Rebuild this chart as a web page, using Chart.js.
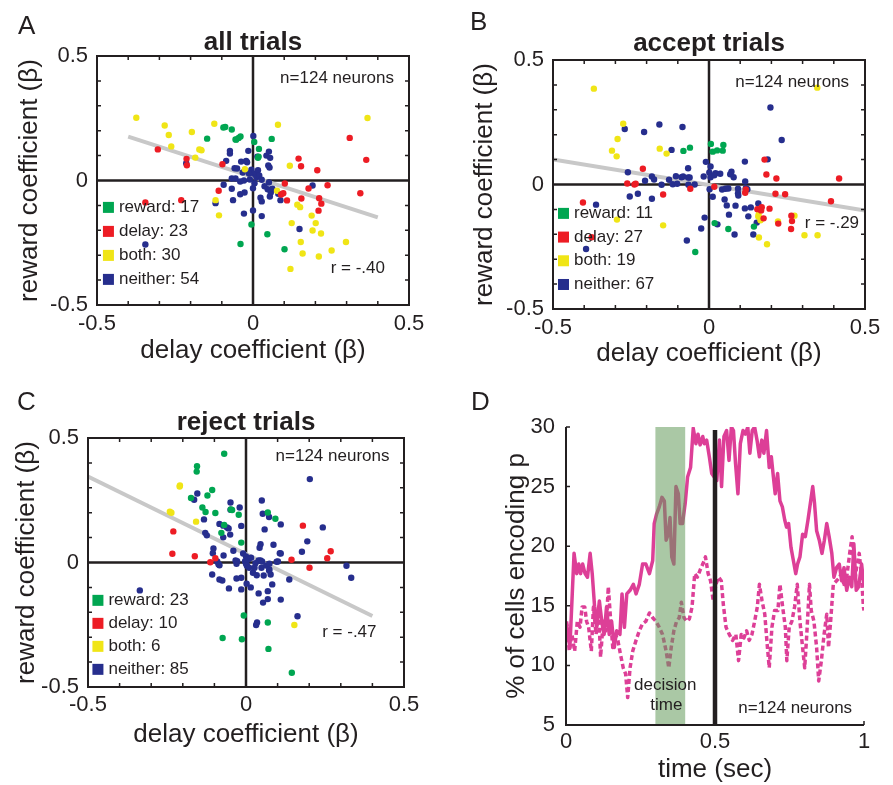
<!DOCTYPE html>
<html>
<head>
<meta charset="utf-8">
<title>Coefficient scatter and encoding time course</title>
<script src="https://cdn.jsdelivr.net/npm/chart.js@4.4.1/dist/chart.umd.min.js"></script>
<style>
  body { margin: 0; background: #fff; }
  #fig { position: relative; width: 893px; height: 785px; overflow: hidden;
         font-family: "Liberation Sans", Arial, Helvetica, sans-serif; color: #231f20; }
  #fig canvas { position: absolute; }
  .tag { position: absolute; font-size: 26px; line-height: 1; }
</style>
</head>
<body>
<div id="fig">
  <canvas id="allChart" width="440" height="390" style="left:0;top:0"></canvas>
  <canvas id="acceptChart" width="443" height="390" style="left:450px;top:0"></canvas>
  <canvas id="rejectChart" width="440" height="395" style="left:0;top:390px"></canvas>
  <canvas id="timeChart" width="443" height="395" style="left:450px;top:390px"></canvas>
  <div class="tag" style="left:18px;top:12px">A</div>
  <div class="tag" style="left:470px;top:8px">B</div>
  <div class="tag" style="left:17px;top:388px">C</div>
  <div class="tag" style="left:471px;top:388px">D</div>
</div>
<script>
// ---- data ----
const groupNames = ['reward', 'delay', 'both', 'neither'];
const countsAll = [17, 23, 30, 54];
const countsAccept = [11, 27, 19, 67];
const countsReject = [23, 10, 6, 85];
const corrR = ['-.40', '-.29', '-.47'];
const nNeurons = 124;

const coefTicks = [-0.5, 0, 0.5];
const coefMinor = [-0.4, -0.3, -0.2, -0.1, 0.1, 0.2, 0.3, 0.4];
const timeTicks = [0, 0.5, 1];
const pctTicks = [5, 10, 15, 20, 25, 30];

// all trials (delay beta, reward beta)
const allReward = [[-0.095,0.213],[-0.089,0.215],[-0.068,0.205],[-0.147,0.168],[-0.054,0.164],[-0.046,0.171],[-0.040,0.177],[0.004,0.155],[0.019,0.127],[0.060,0.167],[0.016,0.091],[-0.005,-0.177],[0.046,-0.216],[-0.040,-0.255],[0.101,-0.276],[-0.056,0.165],[0.018,0.096]];
const allDelay = [[-0.305,0.125],[-0.213,0.087],[-0.212,0.061],[-0.345,-0.088],[-0.230,-0.079],[-0.110,-0.041],[-0.098,0.065],[0.146,0.088],[0.154,0.057],[0.206,0.041],[0.102,-0.012],[0.178,-0.032],[0.239,-0.019],[0.155,-0.072],[0.109,-0.080],[0.212,-0.071],[0.219,-0.093],[0.210,-0.121],[0.310,0.171],[0.363,0.083],[0.344,-0.051],[0.090,-0.056],[0.097,-0.051]];
const allBoth = [[-0.374,0.252],[-0.283,0.221],[-0.270,0.183],[-0.262,0.137],[-0.196,0.195],[-0.167,0.123],[-0.172,0.125],[-0.185,0.092],[-0.124,0.228],[0.080,0.224],[0.367,0.251],[-0.026,0.045],[-0.120,-0.079],[-0.109,-0.140],[0.118,0.059],[0.142,-0.097],[0.151,-0.107],[0.188,-0.141],[0.201,-0.171],[0.124,-0.171],[0.191,-0.201],[0.218,-0.213],[0.153,-0.247],[0.159,-0.293],[0.211,-0.305],[0.252,-0.281],[0.298,-0.247],[0.120,-0.355],[0.077,-0.041],[-0.165,0.121]];
const allNeither = [[-0.345,-0.257],[-0.214,0.069],[-0.120,-0.091],[-0.094,-0.017],[-0.086,0.079],[-0.074,0.119],[-0.074,0.108],[-0.068,-0.033],[-0.064,-0.079],[-0.068,0.008],[-0.056,0.008],[-0.059,0.049],[-0.051,0.048],[-0.041,-0.055],[-0.038,0.076],[-0.029,-0.133],[-0.027,-0.048],[-0.022,0.079],[-0.019,0.073],[-0.033,0.032],[-0.029,0.000],[-0.015,0.119],[-0.005,0.043],[0.001,0.179],[0.000,-0.120],[0.000,-0.031],[0.003,0.027],[0.016,0.041],[0.011,0.013],[0.020,0.020],[0.028,0.003],[0.014,0.096],[0.024,-0.069],[0.028,-0.084],[0.028,-0.143],[0.043,0.100],[0.051,0.116],[0.055,0.091],[0.049,0.060],[0.053,0.052],[0.051,-0.008],[0.047,-0.035],[0.054,-0.064],[0.057,-0.048],[0.062,-0.033],[0.081,-0.053],[0.088,-0.079],[0.191,-0.020],[0.149,-0.195],[-0.013,0.028],[0.005,-0.011],[0.037,-0.023],[-0.041,-0.004],[-0.010,0.004]];
const fitAll = [[-0.40,0.176],[0.40,-0.148]];

// accept trials
const acceptReward = [[-0.082,0.135],[-0.061,0.148],[0.006,0.163],[0.012,0.132],[0.026,0.137],[0.044,0.136],[0.046,0.159],[0.018,-0.155],[0.062,-0.179],[0.144,-0.169],[-0.044,-0.271]];
const acceptDelay = [[-0.404,-0.072],[-0.376,-0.212],[-0.262,0.004],[-0.239,0.000],[-0.235,0.003],[-0.212,0.063],[-0.147,-0.040],[-0.060,-0.017],[0.017,-0.009],[0.116,-0.033],[0.178,0.100],[0.184,0.040],[0.216,0.024],[0.417,0.024],[0.213,-0.037],[0.244,-0.039],[0.391,-0.067],[0.155,-0.099],[0.169,-0.091],[0.194,-0.097],[0.175,-0.136],[0.222,-0.157],[0.264,-0.125],[0.266,-0.147],[0.263,-0.179],[0.167,-0.104],[0.118,-0.020]];
const acceptBoth = [[-0.369,0.385],[0.347,0.389],[-0.275,0.244],[-0.293,0.183],[-0.311,0.136],[-0.296,0.113],[-0.158,0.144],[-0.136,0.124],[-0.295,-0.141],[-0.147,-0.164],[0.159,-0.121],[0.165,-0.144],[0.221,-0.148],[0.274,-0.125],[0.160,-0.213],[0.186,-0.240],[0.306,-0.204],[0.348,-0.204],[0.158,-0.129]];
const acceptNeither = [[-0.270,0.223],[-0.208,0.211],[-0.159,0.241],[-0.085,0.231],[-0.120,0.139],[-0.260,0.049],[-0.205,0.015],[-0.183,0.032],[-0.176,0.020],[-0.152,-0.001],[-0.254,-0.048],[-0.228,-0.037],[-0.183,-0.057],[-0.362,-0.081],[-0.394,-0.259],[-0.128,0.019],[-0.116,0.001],[-0.106,0.033],[-0.102,0.003],[-0.088,0.029],[-0.083,0.032],[-0.067,0.065],[-0.067,0.028],[-0.062,0.028],[-0.066,-0.001],[-0.046,0.000],[-0.071,-0.225],[-0.025,-0.177],[-0.014,-0.133],[-0.010,0.091],[0.005,0.072],[0.001,0.048],[0.005,0.029],[0.002,-0.019],[0.012,-0.049],[0.021,0.045],[0.036,0.043],[0.017,0.037],[0.027,-0.160],[0.042,-0.020],[0.050,-0.060],[0.057,-0.084],[0.062,-0.016],[0.064,-0.121],[0.068,0.041],[0.072,0.051],[0.079,0.029],[0.085,-0.085],[0.082,-0.201],[0.093,-0.017],[0.093,-0.035],[0.094,-0.044],[0.115,0.092],[0.116,0.012],[0.118,-0.015],[0.123,-0.019],[0.115,-0.096],[0.134,-0.092],[0.126,-0.128],[0.158,-0.076],[0.153,-0.153],[0.142,-0.201],[0.188,0.101],[0.197,0.309],[0.233,0.179],[-0.017,0.032],[0.053,-0.017]];
const fitAccept = [[-0.5,0.101],[0.5,-0.105]];

// reject trials
const rejectReward = [[-0.069,0.437],[-0.155,0.387],[-0.156,0.365],[-0.107,0.291],[-0.122,0.269],[-0.174,0.259],[-0.138,0.221],[-0.128,0.203],[-0.097,0.199],[-0.048,0.213],[-0.044,0.211],[-0.023,0.192],[-0.078,0.119],[-0.015,0.080],[0.069,0.201],[0.093,0.176],[-0.007,-0.213],[0.069,-0.241],[-0.074,-0.303],[-0.013,-0.308],[0.071,-0.347],[0.145,-0.443],[-0.069,0.151]];
const rejectDelay = [[-0.230,0.125],[-0.233,0.035],[-0.162,0.025],[-0.113,0.001],[-0.097,0.017],[0.144,0.011],[0.201,-0.021],[0.180,0.148],[0.268,0.045],[0.257,0.017]];
const rejectBoth = [[-0.209,0.309],[-0.241,0.204],[-0.158,0.164],[0.153,-0.251],[-0.210,0.305],[-0.236,0.200]];
const rejectNeither = [[0.202,0.335],[0.243,0.141],[0.050,0.249],[0.053,0.196],[0.073,0.183],[0.059,0.133],[0.110,0.153],[0.087,0.071],[0.046,0.073],[0.107,0.037],[0.110,0.036],[0.194,0.085],[0.177,0.043],[0.318,-0.013],[0.333,-0.061],[0.137,-0.068],[0.110,-0.149],[0.083,-0.088],[0.069,-0.115],[0.069,-0.147],[0.054,-0.161],[0.040,-0.124],[0.163,-0.216],[0.035,-0.241],[0.032,-0.251],[-0.336,-0.112],[-0.154,0.277],[-0.164,0.252],[-0.133,0.173],[-0.129,0.119],[-0.124,0.109],[-0.072,0.148],[-0.060,0.141],[-0.055,0.137],[-0.072,0.101],[-0.049,0.241],[-0.049,0.212],[-0.020,0.221],[-0.015,0.147],[-0.050,0.112],[-0.040,0.047],[-0.103,0.056],[-0.105,0.037],[-0.071,0.028],[-0.091,0.004],[-0.087,-0.007],[-0.084,-0.011],[-0.107,-0.048],[-0.084,-0.068],[-0.075,-0.072],[-0.054,-0.104],[-0.030,-0.064],[-0.015,-0.061],[-0.033,0.008],[-0.030,-0.005],[-0.009,0.036],[0.000,0.024],[-0.003,0.005],[0.000,-0.005],[0.003,-0.013],[0.007,0.012],[0.010,-0.021],[0.002,-0.085],[0.015,-0.100],[-0.015,-0.108],[0.022,-0.041],[0.034,-0.051],[0.040,0.008],[0.046,0.008],[0.051,0.004],[0.049,-0.021],[0.056,-0.052],[0.064,-0.012],[0.074,-0.005],[0.074,-0.028],[0.078,-0.048],[0.097,0.003],[0.101,0.004],[0.073,-0.032],[0.030,-0.003],[0.043,0.059],[0.016,0.019],[-0.028,0.005],[0.027,-0.021],[-0.084,0.155]];
const fitReject = [[-0.5,0.345],[0.40,-0.215]];

// % of cells encoding p over time
const timeSolid = [0.002,0.013,0.027,0.036,0.043,0.049,0.056,0.064,0.072,0.081,0.088,0.096,0.103,0.112,0.121,0.128,0.136,0.145,0.153,0.162,0.170,0.181,0.188,0.196,0.204,0.215,0.226,0.235,0.246,0.257,0.268,0.280,0.291,0.296,0.304,0.313,0.322,0.330,0.336,0.343,0.349,0.355,0.362,0.369,0.377,0.383,0.391,0.400,0.408,0.418,0.427,0.436,0.443,0.450,0.459,0.464,0.472,0.481,0.489,0.506,0.515,0.522,0.530,0.539,0.547,0.555,0.562,0.569,0.577,0.585,0.594,0.602,0.610,0.617,0.625,0.633,0.641,0.649,0.657,0.664,0.673,0.682,0.689,0.696,0.702,0.710,0.718,0.726,0.734,0.740,0.747,0.755,0.763,0.771,0.777,0.785,0.794,0.803,0.812,0.820,0.828,0.834,0.841,0.850,0.859,0.867,0.875,0.883,0.892,0.899,0.908,0.917,0.925,0.933,0.942,0.951,0.959,0.966,0.974,0.982,0.992,1.000];
const pctSolid = [13.5,11.5,19.4,17.7,18.5,17.7,18.5,17.7,17.4,19.4,17.7,14.9,13.2,15.4,13.5,12.6,14.9,12.6,13.7,11.5,12.9,12.6,16.0,13.2,16.0,16.3,16.8,16.0,16.8,18.5,18.5,17.7,18.8,21.9,22.7,23.3,24.1,23.8,20.5,21.0,22.4,19.1,18.5,25.0,24.4,21.9,21.9,23.6,25.8,26.6,29.9,28.6,29.4,28.5,29.2,28.6,28.9,27.5,26.1,25.5,28.9,25.0,29.2,29.7,27.2,30.0,29.7,26.9,24.4,28.6,29.7,29.4,30.0,27.8,29.7,30.0,28.9,27.5,28.9,27.8,29.7,26.6,27.5,25.8,24.4,26.1,23.8,23.3,22.2,21.6,21.9,19.9,18.8,17.7,18.5,19.1,21.0,20.8,22.2,23.6,25.0,23.6,21.3,20.5,19.4,20.5,21.9,20.8,19.4,17.4,18.2,18.5,17.1,18.2,16.3,17.4,16.6,20.2,16.3,16.6,18.5,16.6];
const timeDashed = [0.002,0.011,0.020,0.029,0.038,0.047,0.054,0.063,0.069,0.076,0.085,0.092,0.101,0.109,0.116,0.125,0.134,0.142,0.150,0.157,0.166,0.174,0.183,0.192,0.200,0.207,0.215,0.224,0.235,0.246,0.257,0.268,0.280,0.291,0.302,0.313,0.324,0.336,0.345,0.353,0.362,0.371,0.380,0.387,0.396,0.405,0.414,0.423,0.432,0.441,0.450,0.459,0.468,0.477,0.485,0.494,0.503,0.512,0.521,0.528,0.537,0.548,0.559,0.570,0.579,0.588,0.597,0.606,0.615,0.624,0.633,0.642,0.649,0.658,0.667,0.676,0.682,0.691,0.700,0.711,0.718,0.727,0.736,0.741,0.749,0.758,0.767,0.776,0.785,0.794,0.801,0.808,0.817,0.823,0.832,0.841,0.848,0.857,0.866,0.875,0.881,0.888,0.897,0.908,0.919,0.926,0.933,0.942,0.953,0.960,0.969,0.975,0.984,0.991,0.998,1.000];
const pctDashed = [13.7,11.2,12.6,11.2,13.7,13.2,14.9,14.9,13.7,13.2,11.2,14.9,12.6,14.9,10.7,13.7,12.9,16.6,13.7,11.5,12.6,12.1,10.9,9.8,9.3,7.3,9.8,11.2,12.1,12.9,13.5,13.7,14.4,14.0,13.7,13.2,12.6,11.2,9.8,11.5,12.9,13.7,14.0,15.3,14.0,13.7,13.9,14.9,17.7,17.4,18.0,18.5,19.1,17.7,17.1,15.4,16.8,17.4,17.1,15.1,13.2,12.6,12.1,12.6,10.4,12.6,12.3,12.9,12.1,12.6,13.7,14.9,16.8,15.4,14.3,11.5,9.8,13.2,14.6,14.6,16.8,14.9,13.2,10.4,13.2,13.7,14.9,16.8,13.7,11.5,9.8,12.6,16.8,14.6,13.7,11.5,8.7,10.4,12.6,14.3,11.5,13.7,16.8,17.1,17.4,18.0,16.6,17.4,19.6,20.8,17.1,18.2,19.4,17.7,14.9,14.6];
const decisionWindow = [0.3, 0.4];
const choiceTime = 0.5;

// ---- styling ----
const ink = '#231f20';
const dotColors = ['#00a651', '#ed1c24', '#f0e516', '#262e8d'];
const pink = '#dd3f97';

Chart.defaults.font.family = '"Liberation Sans", Arial, Helvetica, sans-serif';
Chart.defaults.color = ink;

// frame, zero lines, inward ticks, in-plot keys and notes
const decor = {
  id: 'decor',
  beforeDatasetsDraw(chart, args, o) {
    if (!o.zero) return;
    const { ctx, chartArea: a, scales: { x, y } } = chart;
    const x0 = x.getPixelForValue(0), y0 = y.getPixelForValue(0);
    ctx.save();
    ctx.strokeStyle = ink;
    ctx.lineWidth = 2.5;
    ctx.beginPath();
    ctx.moveTo(x0, a.top); ctx.lineTo(x0, a.bottom);
    ctx.moveTo(a.left, y0); ctx.lineTo(a.right, y0);
    ctx.stroke();
    ctx.restore();
  },
  afterDatasetsDraw(chart, args, o) {
    const { ctx, chartArea: a, scales: { x, y } } = chart;
    ctx.save();
    if (o.window) {
      const l = x.getPixelForValue(o.window[0]), r = x.getPixelForValue(o.window[1]);
      ctx.fillStyle = 'rgba(100,155,91,0.55)';
      ctx.fillRect(l, a.top, r - l, a.height);
    }
    if (o.marker != null) {
      const m = x.getPixelForValue(o.marker);
      ctx.strokeStyle = ink;
      ctx.lineWidth = 4.5;
      ctx.beginPath();
      ctx.moveTo(m, a.top + 3); ctx.lineTo(m, a.bottom);
      ctx.stroke();
    }
    ctx.strokeStyle = ink;
    ctx.lineWidth = 2;
    ctx.beginPath();
    if (o.box) {
      ctx.rect(a.left, a.top, a.width, a.height);
    } else {
      ctx.moveTo(a.left, a.top); ctx.lineTo(a.left, a.bottom); ctx.lineTo(a.right, a.bottom);
    }
    ctx.stroke();

    ctx.lineWidth = 1.5;
    ctx.beginPath();
    (o.ticksX || []).forEach(v => {
      const px = x.getPixelForValue(v);
      ctx.moveTo(px, a.bottom); ctx.lineTo(px, a.bottom - 4);
      if (o.box) { ctx.moveTo(px, a.top); ctx.lineTo(px, a.top + 4); }
    });
    (o.ticksY || []).forEach(v => {
      const py = y.getPixelForValue(v);
      ctx.moveTo(a.left, py); ctx.lineTo(a.left + 4, py);
      if (o.box) { ctx.moveTo(a.right, py); ctx.lineTo(a.right - 4, py); }
    });
    ctx.stroke();

    ctx.font = '17px "Liberation Sans", Arial, sans-serif';
    ctx.textBaseline = 'middle';
    if (o.key) {
      const kx = x.getPixelForValue(o.key.x), ky = y.getPixelForValue(o.key.y);
      o.key.items.forEach((it, i) => {
        const py = ky + i * o.key.step;
        ctx.fillStyle = it.color;
        ctx.fillRect(kx, py - 5.5, 11, 11);
        ctx.fillStyle = ink;
        ctx.textAlign = 'left';
        ctx.fillText(it.text, kx + 16, py);
      });
    }
    (o.notes || []).forEach(n => {
      ctx.fillStyle = ink;
      ctx.textAlign = n.align || 'right';
      ctx.fillText(n.text, x.getPixelForValue(n.x), y.getPixelForValue(n.y));
    });
    ctx.restore();
  }
};
Chart.register(decor);

function coefAxis(isX, L) {
  return {
    type: 'linear',
    min: -0.5,
    max: 0.5,
    afterBuildTicks: s => { s.ticks = coefTicks.map(v => ({ value: v })); },
    afterFit: s => { if (isX) s.height = L.xHeight; else s.width = L.yWidth; },
    ticks: { autoSkip: false, maxRotation: 0, padding: isX ? L.tickPadX : 9,
             font: { size: 22 }, callback: v => String(v) },
    grid: { display: false, drawTicks: false },
    border: { display: false },
    title: {
      display: true,
      text: isX ? 'delay coefficient (β)' : 'reward coefficient (β)',
      font: { size: 26 },
      padding: isX ? { top: 0, bottom: L.xTitlePad } : { top: L.yTitlePad, bottom: 0 }
    }
  };
}

function scatterPanel(id, title, groups, counts, fit, r, L) {
  const datasets = groups.map((pts, i) => ({
    type: 'scatter',
    label: groupNames[i],
    data: pts,
    backgroundColor: dotColors[i],
    borderWidth: 0,
    pointRadius: 3.2,
    order: 1
  }));
  datasets.push({
    type: 'line',
    label: 'fit',
    data: fit,
    borderColor: '#c8c8c8',
    borderWidth: 4,
    pointRadius: 0,
    order: 5
  });
  return new Chart(document.getElementById(id), {
    type: 'scatter',
    data: { datasets },
    options: {
      responsive: false,
      animation: false,
      events: [],
      layout: { padding: { left: 0, right: L.padRight, top: 0, bottom: 0 } },
      scales: { x: coefAxis(true, L), y: coefAxis(false, L) },
      plugins: {
        legend: { display: false },
        tooltip: { enabled: false },
        title: {
          display: true,
          fullSize: false,
          text: title,
          color: ink,
          font: { size: 26, weight: 'bold', lineHeight: 1 },
          padding: { top: L.titleTop, bottom: L.titleBottom }
        },
        decor: {
          zero: true,
          box: true,
          ticksX: coefMinor,
          ticksY: coefMinor,
          key: {
            x: L.keyX, y: L.keyY, step: L.keyStep,
            items: groupNames.map((g, i) => ({ color: dotColors[i], text: g + ': ' + counts[i] }))
          },
          notes: [
            { text: 'n=' + nNeurons + ' neurons', x: L.nX, y: L.nY },
            { text: 'r = ' + r, x: L.rX, y: L.rY }
          ]
        }
      }
    }
  });
}

scatterPanel('allChart', 'all trials', [allReward, allDelay, allBoth, allNeither], countsAll, fitAll, corrR[0], {
  padRight: 31, titleTop: 30, titleBottom: 0, yWidth: 97, yTitlePad: 14,
  xHeight: 85, xTitlePad: 24, tickPadX: 6,
  keyX: -0.481, keyY: -0.108, keyStep: 24, nX: 0.452, nY: 0.41, rX: 0.423, rY: -0.352
});

scatterPanel('acceptChart', 'accept trials', [acceptReward, acceptDelay, acceptBoth, acceptNeither], countsAccept, fitAccept, corrR[1], {
  padRight: 28, titleTop: 31, titleBottom: 3, yWidth: 103, yTitlePad: 19,
  xHeight: 81, xTitlePad: 21, tickPadX: 6,
  keyX: -0.484, keyY: -0.116, keyStep: 23.7, nX: 0.449, nY: 0.41, rX: 0.481, rY: -0.156
});

scatterPanel('rejectChart', 'reject trials', [rejectReward, rejectDelay, rejectBoth, rejectNeither], countsReject, fitReject, corrR[2], {
  padRight: 36, titleTop: 20, titleBottom: 2, yWidth: 88, yTitlePad: 11,
  xHeight: 98, xTitlePad: 35, tickPadX: 5,
  keyX: -0.486, keyY: -0.152, keyStep: 23, nX: 0.454, nY: 0.428, rX: 0.413, rY: -0.28
});

new Chart(document.getElementById('timeChart'), {
  type: 'line',
  data: {
    datasets: [
      {
        label: 'solid',
        data: timeSolid.map((t, i) => ({ x: t, y: pctSolid[i] })),
        borderColor: pink,
        borderWidth: 3.5,
        borderJoinStyle: 'round',
        pointRadius: 0,
        tension: 0
      },
      {
        label: 'dashed',
        data: timeDashed.map((t, i) => ({ x: t, y: pctDashed[i] })),
        borderColor: pink,
        borderWidth: 3.5,
        borderDash: [5, 3],
        borderJoinStyle: 'round',
        borderCapStyle: 'butt',
        pointRadius: 0,
        tension: 0
      }
    ]
  },
  options: {
    responsive: false,
    animation: false,
    events: [],
    layout: { padding: { left: 0, right: 29, top: 37, bottom: 0 } },
    scales: {
      x: {
        type: 'linear', min: 0, max: 1,
        afterBuildTicks: s => { s.ticks = timeTicks.map(v => ({ value: v })); },
        afterFit: s => { s.height = 60; },
        ticks: { autoSkip: false, maxRotation: 0, padding: 4, font: { size: 22 }, callback: v => String(v) },
        grid: { display: false, drawTicks: false },
        border: { display: false },
        title: { display: true, text: 'time (sec)', font: { size: 26 }, padding: { top: 0, bottom: 0 } }
      },
      y: {
        type: 'linear', min: 5, max: 30,
        afterBuildTicks: s => { s.ticks = pctTicks.map(v => ({ value: v })); },
        afterFit: s => { s.width = 116; },
        ticks: { autoSkip: false, padding: 11, font: { size: 22 }, callback: v => String(v) },
        grid: { display: false, drawTicks: false },
        border: { display: false },
        title: { display: true, text: '% of cells encoding p', font: { size: 26 }, padding: { top: 51, bottom: 0 } }
      }
    },
    plugins: {
      legend: { display: false },
      tooltip: { enabled: false },
      decor: {
        box: false,
        window: decisionWindow,
        marker: choiceTime,
        ticksX: timeTicks,
        ticksY: pctTicks,
        notes: [
          { text: 'decision', x: 0.333, y: 8.36, align: 'center' },
          { text: 'time', x: 0.337, y: 6.68, align: 'center' },
          { text: 'n=' + nNeurons + ' neurons', x: 0.96, y: 6.43 }
        ]
      }
    }
  }
});
</script>
</body>
</html>
